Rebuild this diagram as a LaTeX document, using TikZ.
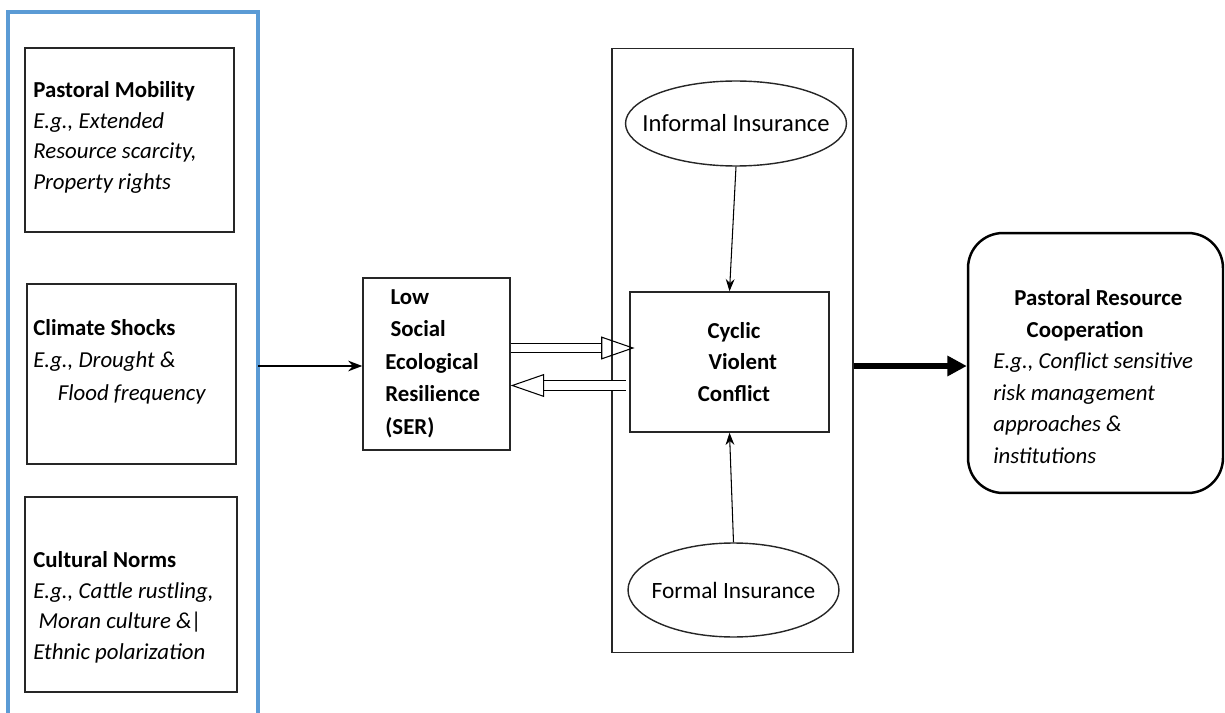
\documentclass[tikz,border=0pt]{standalone}
\usepackage{fontspec}
\setmainfont{Carlito}
\usetikzlibrary{shapes.geometric,arrows.meta}
\definecolor{quadroazul}{HTML}{5B9BD5}

\begin{document}
\begin{tikzpicture}[x=0.02cm,y=-0.02cm,
    caixa/.style={draw=black!85,line width=0.8pt,inner sep=0pt},
    elipse/.style={ellipse,draw=black!85,line width=0.8pt,inner sep=0pt},
    rotulo/.style={label={[font=\fontsize{14}{17}\selectfont]center:#1}},
    texto/.style={anchor=north west,inner sep=0pt,align=left,font=\fontsize{13}{17.5}\selectfont},
    seta/.style={-{Stealth[length=7pt,width=5pt]},line width=0.6pt},
    oca/.style={double=white,double distance=4.6pt,line width=0.6pt,-{Triangle[open,length=19pt,width=13pt]}}
]
\useasboundingbox (0,0) rectangle (1225,713);

% moldura azul (aberta em baixo)
\draw[quadroazul,line width=1.8pt] (8,713) -- (8,12) -- (258,12) -- (258,713);
\coordinate (saida) at (258,366);

% fatores
\node[caixa,minimum width=4.18cm,minimum height=3.68cm] (pm) at (129.5,140) {};
\node[caixa,minimum width=4.18cm,minimum height=3.6cm] (cs) at (131.5,374) {};
\node[caixa,minimum width=4.24cm,minimum height=3.9cm] (cn) at (131,594.5) {};
\node[texto] (pmt) at (33,81) {\textbf{Pastoral Mobility}\\\textit{E.g., Extended}\\\textit{Resource scarcity,}\\\textit{Property rights}};
\node[texto,font=\fontsize{13}{18.5}\selectfont] (cst) at (33,319) {\textbf{Climate Shocks}\\\textit{E.g., Drought \&}\\\hspace*{14pt}\textit{Flood frequency}};
\node[texto] (cnt) at (33,551) {\textbf{Cultural Norms}\\\textit{E.g., Cattle rustling,}\\\hspace*{3pt}\textit{Moran culture \&|}\\\textit{Ethnic polarization}};

% resiliencia
\node[caixa,minimum width=2.94cm,minimum height=3.44cm] (ser) at (436.5,364) {};
\node[texto,font=\fontsize{13}{18.5}\selectfont\bfseries] (sert) at (385,289) {\hspace*{3pt}Low\\\hspace*{3pt}Social\\Ecological\\Resilience\\(SER)};

% seguros e conflito
\node[caixa,minimum width=4.82cm,minimum height=12.08cm] (seg) at (732.5,350.5) {};
\node[elipse,minimum width=4.42cm,minimum height=1.7cm,rotulo=Informal Insurance] (inf) at (736,123.5) {};
\node[elipse,minimum width=4.22cm,minimum height=1.88cm,rotulo={\fontsize{13.3}{16}\selectfont Formal Insurance}] (for) at (733.5,590) {};
\node[caixa,minimum width=3.98cm,minimum height=2.8cm] (cvc) at (729.5,362) {};
\node[texto,anchor=center,align=center,font=\fontsize{13}{18}\selectfont\bfseries] (cvct) at (734,362) {Cyclic\\\hspace*{10pt}Violent\\Conflict};

% cooperacao
\node[caixa,draw=black,line width=1.4pt,rounded corners=0.7cm,minimum width=5.1cm,minimum height=5.2cm] (prc) at (1095.5,363) {};
\node[texto,font=\fontsize{13}{18}\selectfont] (prct) at (993,289) {\hspace*{12pt}\textbf{Pastoral Resource}\\\hspace*{19pt}\textbf{Cooperation}\\\textit{E.g., Conflict sensitive}\\\textit{risk management}\\\textit{approaches \&}\\\textit{institutions}};

% ligacoes
\draw[-{Stealth[length=8pt,width=6pt]},line width=1.4pt] (saida) -- (ser.west |- saida);
\draw[seta] (inf.south) -- (cvc.north);
\draw[seta] (for.north) -- (cvc.south);
\coordinate (ida) at (0,348);
\coordinate (volta) at (0,385.5);
\draw[oca] (ser.east |- ida) -- ([xshift=3pt]cvc.west |- ida);
\draw[oca] ([xshift=-2pt]cvc.west |- volta) -- (ser.east |- volta);
\draw[-{Triangle[length=11pt,width=11pt]},line width=3.2pt] (seg.east |- saida) -- (prc.west |- saida);
\end{tikzpicture}
\end{document}
